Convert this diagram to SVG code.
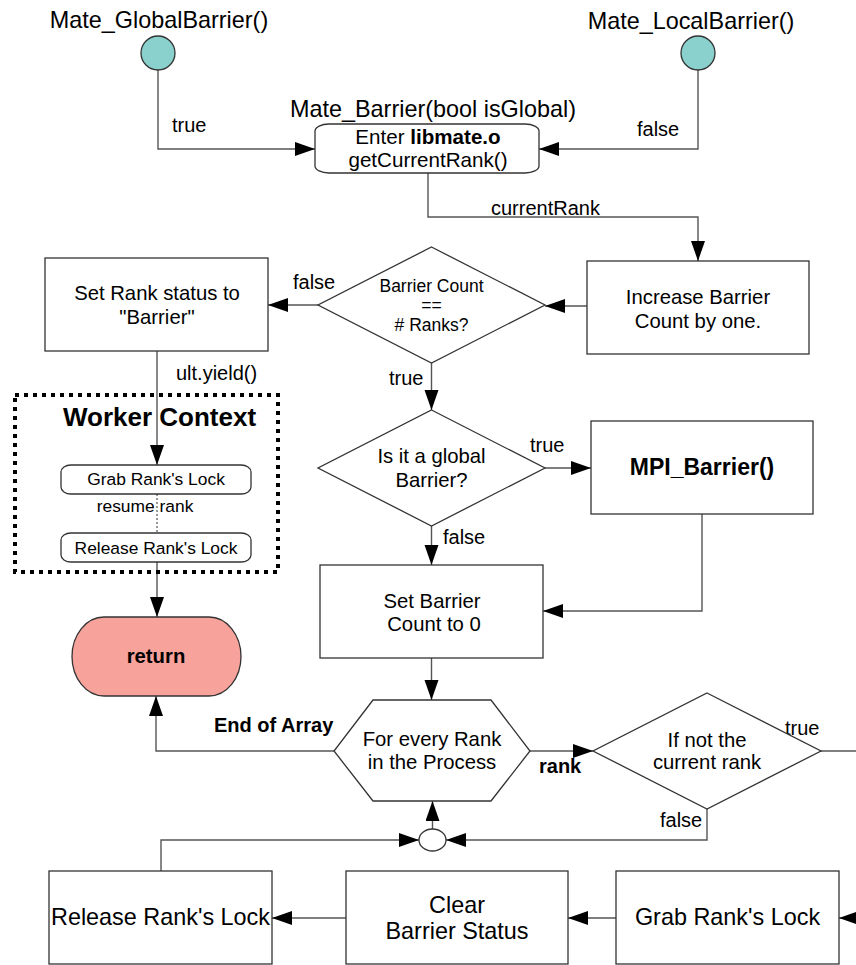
<svg xmlns="http://www.w3.org/2000/svg" width="856" height="965" viewBox="0 0 856 965">
<style>
text{font-family:"Liberation Sans",Arial,sans-serif;fill:#000;}
.t23{font-size:23.4px;text-anchor:middle;}
.t20{font-size:20.3px;text-anchor:middle;}
.lb{font-size:20px;}
.t17{font-size:17.4px;text-anchor:middle;}
.b{font-weight:bold;}
.shape{fill:#fff;stroke:#333;stroke-width:1.3;}
.conn{fill:none;stroke:#555;stroke-width:1.4;}
</style>
<defs>
<marker id="arr" markerUnits="userSpaceOnUse" markerWidth="21" markerHeight="15" refX="20" refY="7" orient="auto">
<path d="M0,0 L20,7 L0,14 z" fill="#000"/>
</marker>
</defs>

<g id="connectors">
<path class="conn" d="M158,70 V149 H315" marker-end="url(#arr)"/>
<path class="conn" d="M698,70 V149 H539" marker-end="url(#arr)"/>
<path class="conn" d="M428,173 V217 H698 V261" marker-end="url(#arr)"/>
<path class="conn" d="M587,306 H545" marker-end="url(#arr)"/>
<path class="conn" d="M318,305 H268" marker-end="url(#arr)"/>
<path class="conn" d="M431.5,363 V410" marker-end="url(#arr)"/>
<path class="conn" d="M545,468 H591" marker-end="url(#arr)"/>
<path class="conn" d="M431.5,526 V565" marker-end="url(#arr)"/>
<path class="conn" d="M702,514 V611 H543" marker-end="url(#arr)"/>
<path class="conn" d="M431.5,658 V700" marker-end="url(#arr)"/>
<path class="conn" d="M157,351 V465" marker-end="url(#arr)"/>
<path d="M157,494 V533" fill="none" stroke="#333" stroke-width="1" stroke-dasharray="2 2"/>
<path class="conn" d="M157,562 V617" marker-end="url(#arr)"/>
<path class="conn" d="M334,751 H156 V696" marker-end="url(#arr)"/>
<path class="conn" d="M530,751 H593" marker-end="url(#arr)"/>
<path class="conn" d="M821,751 H856"/>
<path class="conn" d="M707,809 V840 H446" marker-end="url(#arr)"/>
<path class="conn" d="M161,871 V840 H419" marker-end="url(#arr)"/>
<path class="conn" d="M432.5,829 V801" marker-end="url(#arr)"/>
<path class="conn" d="M870,918 H839" marker-end="url(#arr)"/>
<path class="conn" d="M616,918 H568" marker-end="url(#arr)"/>
<path class="conn" d="M346,918 H272" marker-end="url(#arr)"/>
</g>

<g id="labels">
<text class="lb" x="172" y="132">true</text>
<text class="lb" x="637" y="136">false</text>
<text class="lb" x="491" y="215">currentRank</text>
<text class="lb" x="293" y="289">false</text>
<text class="lb" x="176" y="380">ult.yield()</text>
<text class="lb" x="389" y="385">true</text>
<text class="lb" x="530" y="452">true</text>
<text class="lb" x="443" y="544">false</text>
<text class="lb b" x="214" y="732">End of Array</text>
<text class="lb b" x="539" y="773">rank</text>
<text class="lb" x="785" y="735">true</text>
<text class="lb" x="660" y="827">false</text>
</g>

<g id="global">
<text class="t23" x="159" y="28">Mate_GlobalBarrier()</text>
<circle cx="158" cy="53" r="17" fill="#8ad0cc" stroke="#333" stroke-width="1.3"/>
</g>

<g id="local">
<text class="t23" x="691" y="29">Mate_LocalBarrier()</text>
<circle cx="698" cy="53" r="17" fill="#8ad0cc" stroke="#333" stroke-width="1.3"/>
</g>

<g id="mate-barrier">
<text class="t23" x="433" y="117">Mate_Barrier(bool isGlobal)</text>
<rect class="shape" x="315" y="124" width="224" height="49" rx="14" ry="7"/>
<text class="t20" x="428" y="144" style="font-size:20.6px">Enter <tspan class="b">libmate.o</tspan></text>
<text class="t20" x="428" y="167" style="font-size:20.6px">getCurrentRank()</text>
</g>

<g id="increase">
<rect class="shape" x="587" y="261" width="222" height="93"/>
<text class="t20" x="698" y="304">Increase Barrier</text>
<text class="t20" x="698" y="328">Count by one.</text>
</g>

<g id="barrier-count">
<polygon class="shape" points="431.5,247 545,305 431.5,363 318,305"/>
<text class="t17" x="431.5" y="292" style="font-size:17.5px">Barrier Count</text>
<text class="t17" x="431.5" y="311" style="font-size:17.5px">==</text>
<text class="t17" x="431.5" y="331" style="font-size:17.5px"># Ranks?</text>
</g>

<g id="set-rank-status">
<rect class="shape" x="45" y="258" width="223" height="93"/>
<text class="t20" x="157" y="300">Set Rank status to</text>
<text class="t20" x="157" y="324">"Barrier"</text>
</g>

<g id="worker-context">
<rect x="15" y="395" width="263" height="177" fill="none" stroke="#000" stroke-width="4" stroke-dasharray="4 5"/>
<text class="b" x="159.5" y="426" style="font-size:26px;text-anchor:middle">Worker Context</text>
</g>

<g id="grab-lock-small">
<rect class="shape" x="61" y="465" width="190" height="29" rx="10" ry="7"/>
<text class="t17" x="156" y="485">Grab Rank's Lock</text>
</g>

<g id="resume">
<text class="t17" x="145" y="512">resume rank</text>
</g>

<g id="release-lock-small">
<rect class="shape" x="61" y="533" width="190" height="29" rx="10" ry="7"/>
<text class="t17" x="156" y="554">Release Rank's Lock</text>
</g>

<g id="return">
<rect x="72" y="617" width="169" height="79" rx="32" ry="39.5" fill="#f7a29b" stroke="#333" stroke-width="1.3"/>
<text class="t20 b" x="156" y="663">return</text>
</g>

<g id="global-check">
<polygon class="shape" points="431.5,410 545,468 431.5,526 318,468"/>
<text class="t20" x="431.5" y="463">Is it a global</text>
<text class="t20" x="431.5" y="487">Barrier?</text>
</g>

<g id="mpi-barrier">
<rect class="shape" x="591" y="421" width="222" height="93"/>
<text class="t20 b" x="702" y="475" style="font-size:23px">MPI_Barrier()</text>
</g>

<g id="set-barrier-count">
<rect class="shape" x="320" y="565" width="223" height="93"/>
<text class="t20" x="432" y="608">Set Barrier</text>
<text class="t20" x="434" y="631">Count to 0</text>
</g>

<g id="for-every-rank">
<polygon class="shape" points="373,700 491,700 530,751 491,801 373,801 334,751"/>
<text class="t20" x="432" y="746">For every Rank</text>
<text class="t20" x="432" y="769">in the Process</text>
</g>

<g id="not-current">
<polygon class="shape" points="707,693 821,751 707,809 593,751"/>
<text class="t20" x="707" y="747">If not the</text>
<text class="t20" x="707" y="769">current rank</text>
</g>

<g id="junction">
<ellipse class="shape" cx="432.5" cy="840" rx="13.5" ry="11"/>
</g>

<g id="release-lock">
<rect class="shape" x="49" y="871" width="223" height="93"/>
<text class="t23" x="160.5" y="925">Release Rank's Lock</text>
</g>

<g id="clear-status">
<rect class="shape" x="346" y="871" width="222" height="93"/>
<text class="t23" x="457" y="913">Clear</text>
<text class="t23" x="457" y="939">Barrier Status</text>
</g>

<g id="grab-lock">
<rect class="shape" x="616" y="871" width="223" height="93"/>
<text class="t23" x="727.5" y="925">Grab Rank's Lock</text>
</g>
</svg>
